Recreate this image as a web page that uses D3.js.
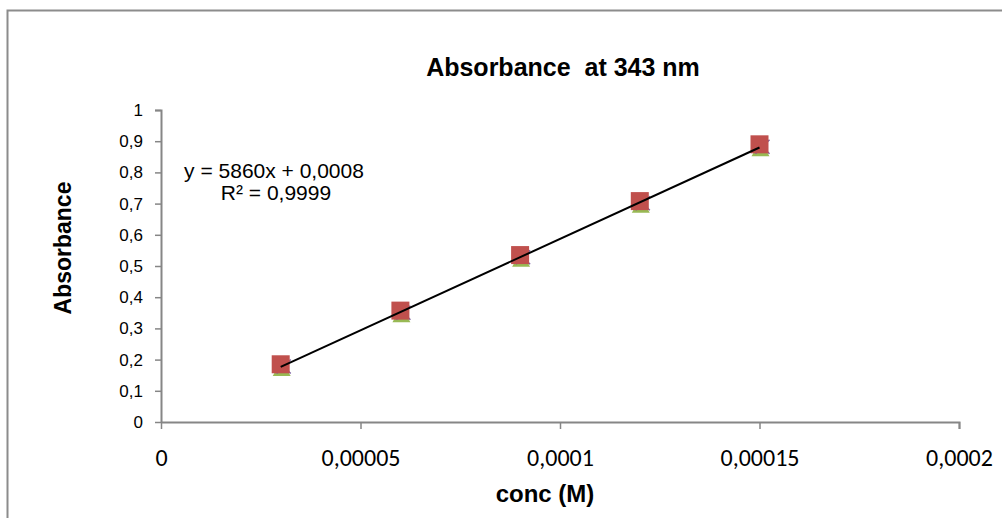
<!DOCTYPE html>
<html><head><meta charset="utf-8">
<script src="https://cdn.jsdelivr.net/npm/d3@7"></script>
<style>body{margin:0;background:#fff}svg{display:block}</style>
</head><body>
<svg id="c" width="1002" height="518"></svg>
<script>
const conc = [0.00003, 0.00006, 0.00009, 0.00012, 0.00015];
const seriesA = [0.178, 0.350, 0.528, 0.701, 0.882]; // blue diamonds
const seriesB = [0.177, 0.349, 0.527, 0.700, 0.881]; // green triangles
const seriesC = [0.178, 0.350, 0.528, 0.701, 0.882]; // purple crosses
const seriesD = [0.185, 0.357, 0.535, 0.708, 0.890]; // red squares
const xTicks = [0, 0.00005, 0.0001, 0.00015, 0.0002];
const xTickLabels = ["0", "0,00005", "0,0001", "0,00015", "0,0002"];
const yTicks = [0, 0.1, 0.2, 0.3, 0.4, 0.5, 0.6, 0.7, 0.8, 0.9, 1];
const yTickLabels = ["0", "0,1", "0,2", "0,3", "0,4", "0,5", "0,6", "0,7", "0,8", "0,9", "1"];
const slope = 5860, intercept = 0.0008;

const svg = d3.select("#c");
const x = d3.scaleLinear().domain([0, 0.0002]).range([161, 959]);
const y = d3.scaleLinear().domain([0, 1]).range([422, 110]);
const arial = "Liberation Sans, Arial, sans-serif";

// outer border
svg.append("rect").attr("x", 7.5).attr("y", 10.5).attr("width", 1010).attr("height", 520)
  .attr("fill", "none").attr("stroke", "#8c8c8c").attr("stroke-width", 2);

const axisColor = "#868686";
// y axis
const yAxis = svg.append("g").attr("transform", "translate(161,0)")
  .call(d3.axisLeft(y).tickValues(yTicks).tickFormat((d, i) => yTickLabels[i]).tickSize(6).tickPadding(12));
yAxis.select(".domain").attr("stroke", axisColor).attr("stroke-width", 2).attr("d", "M-6,110.5H0.5V422");
yAxis.selectAll(".tick line").attr("stroke", axisColor).attr("stroke-width", 1.5);
yAxis.selectAll("text").attr("font-family", arial).attr("font-size", 17).attr("fill", "#000");

// x axis
const xAxis = svg.append("g").attr("transform", "translate(0,422)")
  .call(d3.axisBottom(x).tickValues(xTicks).tickFormat((d, i) => xTickLabels[i]).tickSize(7));
xAxis.select(".domain").attr("stroke", axisColor).attr("stroke-width", 2).attr("d", "M161,0.5H959.5V7");
xAxis.selectAll(".tick line").attr("stroke", axisColor).attr("stroke-width", 1.5);
xAxis.selectAll("text").attr("font-family", "Carlito, Lato, sans-serif").attr("font-size", 24)
  .attr("fill", "#000").attr("dy", null).attr("y", 44);

// markers (lower series first, mostly hidden behind the red squares)
const size = 18;
function pts(data) { return conc.map((c, i) => [x(c), y(data[i])]); }
svg.append("g").selectAll("path").data(pts(seriesA)).join("path")
  .attr("d", d3.symbol(d3.symbolDiamond, 80)).attr("transform", d => `translate(${d[0] + 2},${d[1]})`)
  .attr("fill", "#4a7ebb");
svg.append("g").selectAll("path").data(pts(seriesB)).join("path")
  .attr("d", d3.symbol(d3.symbolTriangle, 140)).attr("transform", d => `translate(${d[0] + 1},${d[1] + 4})`)
  .attr("fill", "#98b954");
svg.append("g").selectAll("path").data(pts(seriesC)).join("path")
  .attr("d", d3.symbol(d3.symbolX, 130)).attr("transform", d => `translate(${d[0] + 3},${d[1]})`)
  .attr("stroke", "#7e62a1").attr("stroke-width", 1.5).attr("fill", "none");
svg.append("g").selectAll("rect").data(pts(seriesD)).join("rect")
  .attr("x", d => d[0] - size / 2).attr("y", d => d[1] - size / 2)
  .attr("width", size).attr("height", size).attr("fill", "#c0504d");

// trendline
const x0 = conc[0], x1 = conc[conc.length - 1];
svg.append("line")
  .attr("x1", x(x0)).attr("y1", y(slope * x0 + intercept))
  .attr("x2", x(x1)).attr("y2", y(slope * x1 + intercept))
  .attr("stroke", "#000").attr("stroke-width", 2);

// texts
svg.append("text").attr("x", 563).attr("y", 76).attr("text-anchor", "middle")
  .attr("font-family", arial).attr("font-weight", "bold").attr("font-size", 25)
  .attr("xml:space", "preserve").style("white-space", "pre")
  .text("Absorbance  at 343 nm");
svg.append("text").attr("transform", "translate(71,248) rotate(-90)").attr("text-anchor", "middle")
  .attr("font-family", arial).attr("font-weight", "bold").attr("font-size", 23)
  .text("Absorbance");
svg.append("text").attr("x", 545).attr("y", 502).attr("text-anchor", "middle")
  .attr("font-family", arial).attr("font-weight", "bold").attr("font-size", 24)
  .text("conc (M)");
svg.append("text").attr("x", 274).attr("y", 178).attr("text-anchor", "middle")
  .attr("font-family", arial).attr("font-size", 21)
  .text("y = 5860x + 0,0008");
svg.append("text").attr("x", 276).attr("y", 200).attr("text-anchor", "middle")
  .attr("font-family", arial).attr("font-size", 21)
  .text("R² = 0,9999");
</script>
</body></html>
